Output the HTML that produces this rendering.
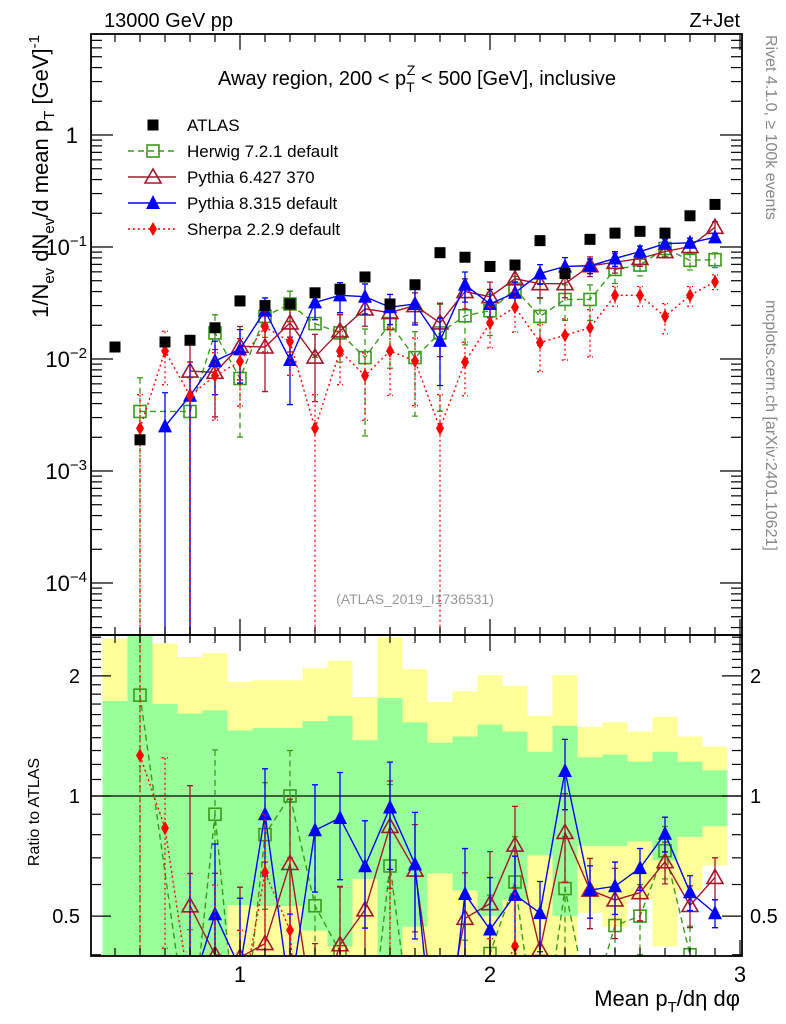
<!DOCTYPE html>
<html><head><meta charset="utf-8"><style>
html,body{margin:0;padding:0;background:#fff;width:786px;height:1024px;overflow:hidden;}
svg{display:block;font-family:"Liberation Sans",sans-serif;}
</style></head><body>
<svg id="chart" width="786" height="1024" viewBox="0 0 786 1024" xmlns="http://www.w3.org/2000/svg">
<defs>
<clipPath id="cm"><rect x="91" y="34" width="651" height="601"/></clipPath>
<clipPath id="cr"><rect x="91" y="635" width="651" height="321"/></clipPath>
</defs>
<g id="bands" clip-path="url(#cr)"></g>
<g id="mainMarks" clip-path="url(#cm)"></g>
<g id="ratioMarks" clip-path="url(#cr)"></g>
<g id="axes"></g>
<text x="104" y="27" font-size="20">13000 GeV pp</text>
<text x="740" y="27" font-size="20" text-anchor="end">Z+Jet</text>
<text x="417" y="85" font-size="20" text-anchor="middle">Away region, 200 &lt; p<tspan font-size="14" dy="7">T</tspan><tspan font-size="14" dx="-8" dy="-17">Z</tspan><tspan dy="10"> &lt; 500 [GeV], inclusive</tspan></text>
<text x="415" y="604" font-size="14" fill="#999" text-anchor="middle">(ATLAS_2019_I1736531)</text>
<text transform="translate(48,35) rotate(-90)" font-size="22" text-anchor="end">1/N<tspan font-size="15" dy="6">ev</tspan><tspan dy="-6"> dN</tspan><tspan font-size="15" dy="6">ev</tspan><tspan dy="-6">/d mean p</tspan><tspan font-size="15" dy="6">T</tspan><tspan dy="-6"> [GeV]</tspan><tspan font-size="15" dy="-9">-1</tspan></text>
<text transform="translate(39,812) rotate(-90)" font-size="16" text-anchor="middle">Ratio to ATLAS</text>
<text x="740" y="1006" font-size="22" text-anchor="end">Mean p<tspan font-size="15" dy="6">T</tspan><tspan dy="-6">/dη dφ</tspan></text>
<text transform="translate(766,35) rotate(90)" font-size="16" fill="#888">Rivet 4.1.0, ≥ 100k events</text>
<text transform="translate(766,300) rotate(90)" font-size="16" fill="#888">mcplots.cern.ch [arXiv:2401.10621]</text>
<g id="legend"></g>
</svg>
<script>
const bins = [0.5,0.6,0.7,0.8,0.9,1.0,1.1,1.2,1.3,1.4,1.5,1.6,1.7,1.8,1.9,2.0,2.1,2.2,2.3,2.4,2.5,2.6,2.7,2.8,2.9];
const atlas = [0.0128,0.0019,0.0142,0.0147,0.019,0.033,0.030,0.031,0.039,0.042,0.054,0.031,0.046,0.089,0.081,0.067,0.069,0.114,0.058,0.117,0.133,0.138,0.133,0.19,0.24];
const herwig = [null,0.0034,null,0.0034,0.0171,0.0067,0.024,0.031,0.0207,0.0171,0.0103,0.0207,0.0103,0.0171,0.0243,0.027,0.042,0.024,0.034,0.034,0.063,0.069,0.097,0.076,0.077];
const herwigErr = [null,1.0,null,1.0,0.45,0.7,0.35,0.3,0.5,0.45,0.8,0.6,0.7,0.8,0.45,0.4,0.3,0.45,0.35,0.35,0.25,0.2,0.15,0.18,0.15];
const py6 = [null,null,null,0.0078,0.0076,0.013,0.0128,0.021,0.0104,0.0178,0.028,0.026,0.030,0.021,0.040,0.036,0.052,0.047,0.047,0.068,0.073,0.079,0.091,0.101,0.15];
const py6Err = [null,null,null,1.0,0.6,0.5,0.6,0.45,0.6,0.4,0.3,0.3,0.3,0.5,0.3,0.35,0.25,0.25,0.25,0.2,0.2,0.15,0.12,0.12,0.12];
const py8 = [null,null,0.0025,0.0047,0.0096,0.0122,0.027,0.0098,0.032,0.037,0.036,0.029,0.031,0.0145,0.046,0.031,0.039,0.058,0.067,0.068,0.079,0.091,0.107,0.109,0.122];
const py8Err = [null,null,1.0,1.0,0.5,0.5,0.3,0.6,0.3,0.3,0.3,0.3,0.35,0.6,0.3,0.35,0.25,0.2,0.2,0.15,0.15,0.12,0.1,0.1,0.08];
const sherpa = [null,0.0024,0.0118,0.0047,0.0071,0.0095,0.0193,0.0143,0.0024,0.0118,0.0071,0.0118,0.0096,0.0024,0.0094,0.021,0.029,0.014,0.0163,0.019,0.037,0.037,0.024,0.037,0.049];
const sherpaErr = [null,1.0,0.5,1.0,0.6,0.6,0.4,0.5,1.0,0.5,0.6,0.6,0.6,1.0,0.5,0.4,0.4,0.45,0.4,0.45,0.2,0.2,0.3,0.2,0.15];
const band1Up = [1.73,2.6,1.70,1.61,1.64,1.46,1.48,1.48,1.54,1.59,1.38,1.76,1.53,1.36,1.41,1.51,1.45,1.29,1.50,1.25,1.27,1.22,1.29,1.22,1.16];
const band1Lo = [0.3,0.3,0.3,0.3,0.3,0.533,0.53,0.53,0.46,0.42,0.62,0.3,0.47,0.64,0.58,0.50,0.55,0.71,0.50,0.75,0.75,0.77,0.69,0.79,0.84];
const band2Up = [2.48,2.6,2.41,2.23,2.28,1.93,1.95,1.95,2.09,2.18,1.77,2.5,2.08,1.72,1.83,2.01,1.89,1.59,2.01,1.49,1.53,1.45,1.58,1.41,1.33];
const band2Lo = [0.3,0.3,0.3,0.3,0.3,0.3,0.3,0.3,0.3,0.3,0.3,0.3,0.3,0.3,0.3,0.3,0.3,0.3,0.3,0.51,0.47,0.55,0.42,0.58,0.67];
const binWidth = 0.1;

const NS='http://www.w3.org/2000/svg';
const X0=91,X1=742,MT=34,MB=635,RB=956;
const xs=v=>240+250*(v-1);
const ym=v=>135-112*Math.log10(v);
const yr=v=>796-399*Math.log10(v);
function mk(tag,attrs,parent){const e=document.createElementNS(NS,tag);for(const k in attrs)e.setAttribute(k,attrs[k]);parent.appendChild(e);return e;}

const bg=document.getElementById('bands');
bins.forEach((b,i)=>{
  const xa=xs(b-binWidth/2), xb=xs(b+binWidth/2);
  const top2=Math.max(yr(band2Up[i]),MB), bot2=Math.min(yr(band2Lo[i]),RB);
  const top1=Math.max(yr(band1Up[i]),MB), bot1=Math.min(yr(band1Lo[i]),RB);
  const r1=mk('rect',{x:xa,y:top2,width:xb-xa,height:bot2-top2,fill:'#ffff99'},bg);
  
  
  const r2=mk('rect',{x:xa,y:top1,width:xb-xa,height:bot1-top1,fill:'#99ff99'},bg);
  
  
});
const one=mk('line',{x1:X0,x2:X1,y1:yr(1),y2:yr(1),stroke:'#000','stroke-width':1.3},bg);



function marker(g,type,cx,cy,col){
  let e;
  if(type==='sq') e=mk('rect',{x:cx-5.5,y:cy-5.5,width:11,height:11,fill:'#000'},g);
  else if(type==='osq') e=mk('rect',{x:cx-6,y:cy-6,width:12,height:12,fill:'none',stroke:col,'stroke-width':1.6},g);
  else if(type==='otri') e=mk('polygon',{points:`${cx},${cy-8} ${cx-8},${cy+6} ${cx+8},${cy+6}`,fill:'none',stroke:col,'stroke-width':1.6},g);
  else if(type==='tri') e=mk('polygon',{points:`${cx},${cy-8} ${cx-7},${cy+6} ${cx+7},${cy+6}`,fill:col},g);
  else e=mk('polygon',{points:`${cx},${cy-7} ${cx-4},${cy} ${cx},${cy+7} ${cx+4},${cy}`,fill:col},g);
  
  
}
const series=[
  {name:'herwig',vals:herwig,err:herwigErr,col:'#3a9a1a',dash:'6,4',m:'osq'},
  {name:'pythia6',vals:py6,err:py6Err,col:'#a0182c',dash:'',m:'otri'},
  {name:'pythia8',vals:py8,err:py8Err,col:'#0000ff',dash:'',m:'tri'},
  {name:'sherpa',vals:sherpa,err:sherpaErr,col:'#ff0000',dash:'2,3',m:'dia'}
];
function drawSeries(g,s,yf,ratio){
  const grp=mk('g',{},g);
  
  
  const bottom=ratio?RB+4:MB+4;
  const pts=[];
  bins.forEach((b,i)=>{
    const v=s.vals[i]; if(v==null)return;
    const val=ratio?v/atlas[i]:v;
    const e=s.err[i]*val;
    const x=xs(b),y=yf(val);
    const lo=val-e>0?Math.min(yf(val-e),bottom):bottom;
    const hi=yf(val+e);
    const eb=mk('path',{d:`M${x},${hi}V${lo}M${x-3},${hi}H${x+3}M${x-3},${lo}H${x+3}`,stroke:s.col,'stroke-width':1.3,fill:'none','stroke-dasharray':s.dash},grp);
    
    
    pts.push([x,y]);
  });
  const ln=mk('polyline',{points:pts.map(p=>p.join(',')).join(' '),fill:'none',stroke:s.col,'stroke-width':1.4,'stroke-dasharray':s.dash},grp);
  
  
  pts.forEach(p=>marker(grp,s.m,p[0],p[1],s.col));
}
const mg=document.getElementById('mainMarks'), rg=document.getElementById('ratioMarks');
series.forEach(s=>{drawSeries(mg,s,ym,false);drawSeries(rg,s,yr,true);});
bins.forEach((b,i)=>marker(mg,'sq',xs(b),ym(atlas[i]),'#000'));

const ax=document.getElementById('axes');
function ln(x1,y1,x2,y2,w){return mk('line',{x1,y1,x2,y2,stroke:'#000','stroke-width':w||1.2},ax);}
const fr1=mk('rect',{x:X0,y:MT,width:X1-X0,height:MB-MT,fill:'none',stroke:'#000','stroke-width':1.8},ax);


const fr2=mk('rect',{x:X0,y:MB,width:X1-X0,height:RB-MB,fill:'none',stroke:'#000','stroke-width':1.8},ax);


for(let k=5;k<=30;k++){const v=k/10,x=xs(v);if(x<X0||x>X1)continue;const L=(k%10===0)?16:8;
  ln(x,MB,x,MB-L);ln(x,MT,x,MT+L);ln(x,RB,x,RB-L);ln(x,MB,x,MB+L);}
[1,2,3].forEach(v=>{const t=mk('text',{x:xs(v),y:RB+26,'font-size':22,'text-anchor':'middle'},ax);t.textContent=v;
  
  });
for(let d=-5;d<=0;d++){for(let m=1;m<10;m++){const v=m*Math.pow(10,d),y=ym(v);if(y<MT||y>MB)continue;const L=m===1?22:11;ln(X0,y,X0+L,y);ln(X1,y,X1-L,y);}}
const ylabs=[[0,'1'],[-1,'10'],[-2,'10'],[-3,'10'],[-4,'10']];
ylabs.forEach(([d,s])=>{const t=mk('text',{x:d===0?78:87,y:ym(Math.pow(10,d))+8,'font-size':22,'text-anchor':'end'},ax);t.textContent=s;
  if(d<0){const sp=mk('tspan',{'font-size':15,dy:-9},t);sp.textContent='−'+(-d);}
  
  });
for(let k=4;k<=25;k++){const v=k/10;const y=yr(v);if(y<MB||y>RB)continue;const L=(v===0.5||v===1||v===2)?20:10;ln(X0,y,X0+L,y);ln(X1,y,X1-L,y);}
[[2,'2'],[1,'1'],[0.5,'0.5']].forEach(([v,s])=>{
  const t=mk('text',{x:80,y:yr(v)+7,'font-size':20,'text-anchor':'end'},ax);t.textContent=s;
  
  
  const t2=mk('text',{x:750,y:yr(v)+7,'font-size':20},ax);t2.textContent=s;
  
  });

const lg=document.getElementById('legend');
const legItems=[['ATLAS',null],['Herwig 7.2.1 default',series[0]],['Pythia 6.427 370',series[1]],['Pythia 8.315 default',series[2]],['Sherpa 2.2.9 default',series[3]]];
legItems.forEach(([label,s],i)=>{
  const y=125+26*i;
  const g=mk('g',{},lg);
  
  
  if(s){mk('line',{x1:128,x2:176,y1:y,y2:y,stroke:s.col,'stroke-width':1.4,'stroke-dasharray':s.dash},g);marker(g,s.m,153,y,s.col);}
  else marker(g,'sq',153,y,'#000');
  const t=mk('text',{x:187,y:y+6,'font-size':17},g);t.textContent=label;
});
</script>
</body></html>
